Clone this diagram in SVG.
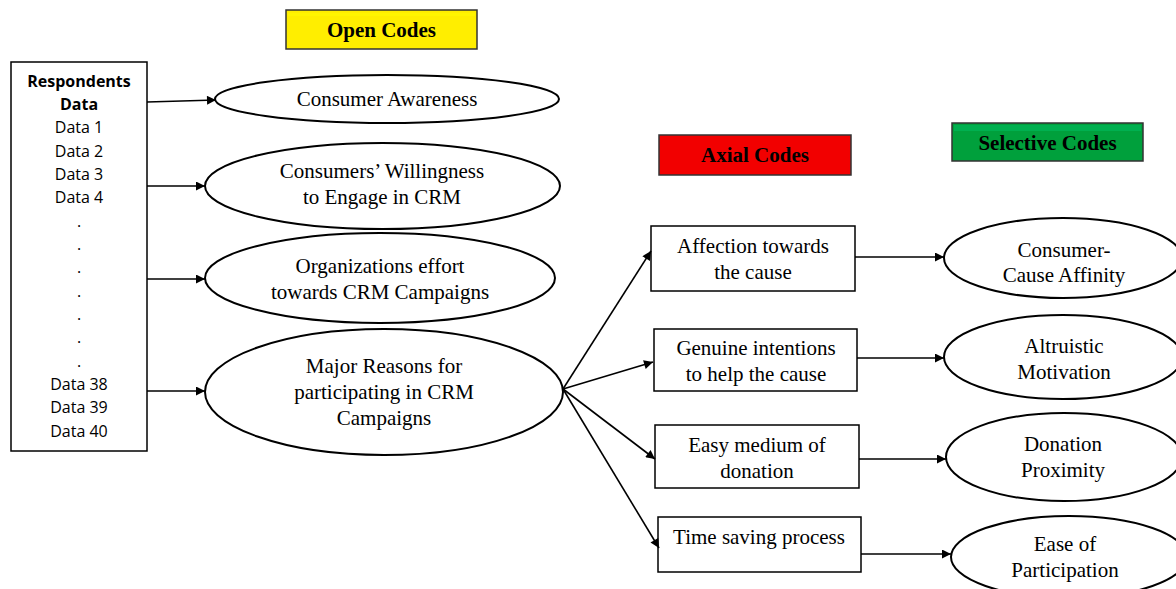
<svg xmlns="http://www.w3.org/2000/svg" width="1176" height="589" viewBox="0 0 1176 589">
<style>
.box{fill:#fff;stroke:#000;stroke-width:1.5}
.ell{fill:#fff;stroke:#000;stroke-width:2}
.t{font-family:"Liberation Serif","Times New Roman",serif;font-size:21px;text-anchor:middle;fill:#000}
.h{font-family:"Liberation Serif","Times New Roman",serif;font-size:21px;font-weight:bold;text-anchor:middle;fill:#000}
.s{font-family:"Open Sans","Liberation Sans",sans-serif;font-size:16px;text-anchor:middle;fill:#000}
.c{stroke:#000;stroke-width:1.6;fill:none;marker-end:url(#ah)}
</style>
<defs>
<marker id="ah" viewBox="0 0 10 10" refX="10" refY="5" markerWidth="10" markerHeight="9" markerUnits="userSpaceOnUse" orient="auto">
<path d="M0,0 L10,5 L0,10 z" fill="#000"/>
</marker>
</defs>
<rect width="1176" height="589" fill="#fff"/>

<g id="open-codes">
<rect x="286" y="10" width="191" height="39" fill="#ffee00" stroke="#333" stroke-width="1.5"/>
<rect x="288" y="13" width="187" height="3" fill="#fff500"/>
<text class="h" x="381.5" y="37">Open Codes</text>
</g>
<g id="axial-codes">
<rect x="659" y="135" width="192" height="40" fill="#f20000" stroke="#333" stroke-width="1.5"/>
<text class="h" x="755" y="162">Axial Codes</text>
</g>
<g id="selective-codes">
<rect x="952" y="123" width="191" height="38" fill="#00a03c" stroke="#333" stroke-width="1.5"/>
<rect x="954" y="125" width="187" height="6" fill="#00b050"/>
<text class="h" x="1047.5" y="150">Selective Codes</text>
</g>

<g id="respondents">
<rect class="box" x="11" y="62" width="136" height="389"/>
<text class="s" x="79" y="87" font-weight="bold">Respondents</text>
<text class="s" x="79" y="110" font-weight="bold">Data</text>
<text class="s" x="79" y="133">Data 1</text>
<text class="s" x="79" y="157">Data 2</text>
<text class="s" x="79" y="180">Data 3</text>
<text class="s" x="79" y="203">Data 4</text>
<text class="s" x="79" y="227">.</text>
<text class="s" x="79" y="250">.</text>
<text class="s" x="79" y="273">.</text>
<text class="s" x="79" y="297">.</text>
<text class="s" x="79" y="320">.</text>
<text class="s" x="79" y="343">.</text>
<text class="s" x="79" y="367">.</text>
<text class="s" x="79" y="390">Data 38</text>
<text class="s" x="79" y="413">Data 39</text>
<text class="s" x="79" y="437">Data 40</text>
</g>

<g id="consumer-awareness">
<ellipse class="ell" cx="387" cy="99" rx="172" ry="24"/>
<text class="t" x="387" y="106">Consumer Awareness</text>
</g>
<g id="willingness">
<ellipse class="ell" cx="382.5" cy="186" rx="177.5" ry="43"/>
<text class="t" x="382" y="178">Consumers’ Willingness</text>
<text class="t" x="382" y="204">to Engage in CRM</text>
</g>
<g id="org-effort">
<ellipse class="ell" cx="380" cy="278" rx="175" ry="45"/>
<text class="t" x="380" y="273">Organizations effort</text>
<text class="t" x="380" y="299">towards CRM Campaigns</text>
</g>
<g id="major-reasons">
<ellipse class="ell" cx="384" cy="392" rx="179" ry="63"/>
<text class="t" x="384" y="373">Major Reasons for</text>
<text class="t" x="384" y="399">participating in CRM</text>
<text class="t" x="384" y="425">Campaigns</text>
</g>

<g id="affection">
<rect class="box" x="651" y="226" width="204" height="65"/>
<text class="t" x="753" y="253">Affection towards</text>
<text class="t" x="753" y="279">the cause</text>
</g>
<g id="genuine">
<rect class="box" x="654" y="329" width="203" height="62"/>
<text class="t" x="756" y="355">Genuine intentions</text>
<text class="t" x="756" y="381">to help the cause</text>
</g>
<g id="easy-medium">
<rect class="box" x="655" y="425" width="204" height="63"/>
<text class="t" x="757" y="452">Easy medium of</text>
<text class="t" x="757" y="478">donation</text>
</g>
<g id="time-saving">
<rect class="box" x="658" y="517" width="203" height="55"/>
<text class="t" x="759" y="544">Time saving process</text>
</g>

<g id="affinity">
<ellipse class="ell" cx="1063" cy="258" rx="119" ry="40"/>
<text class="t" x="1064" y="257">Consumer-</text>
<text class="t" x="1064" y="282">Cause Affinity</text>
</g>
<g id="altruistic">
<ellipse class="ell" cx="1063" cy="357" rx="119" ry="42"/>
<text class="t" x="1064" y="353">Altruistic</text>
<text class="t" x="1064" y="379">Motivation</text>
</g>
<g id="proximity">
<ellipse class="ell" cx="1064" cy="457" rx="118" ry="44"/>
<text class="t" x="1063" y="451">Donation</text>
<text class="t" x="1063" y="477">Proximity</text>
</g>
<g id="ease">
<ellipse class="ell" cx="1069" cy="557" rx="118" ry="41"/>
<text class="t" x="1065" y="551">Ease of</text>
<text class="t" x="1065" y="577">Participation</text>
</g>

<g id="connectors">
<line class="c" x1="147" y1="102" x2="216" y2="100"/>
<line class="c" x1="147" y1="186" x2="205" y2="186"/>
<line class="c" x1="147" y1="279" x2="205" y2="279"/>
<line class="c" x1="147" y1="391" x2="205" y2="391"/>
<line class="c" x1="563" y1="389" x2="651" y2="251"/>
<line class="c" x1="563" y1="389" x2="653" y2="362"/>
<line class="c" x1="563" y1="389" x2="655" y2="459"/>
<line class="c" x1="563" y1="389" x2="659" y2="548"/>
<line class="c" x1="855" y1="257" x2="944" y2="257"/>
<line class="c" x1="857" y1="358" x2="944" y2="358"/>
<line class="c" x1="859" y1="459" x2="946" y2="459"/>
<line class="c" x1="861" y1="554" x2="951" y2="554"/>
</g>
</svg>
